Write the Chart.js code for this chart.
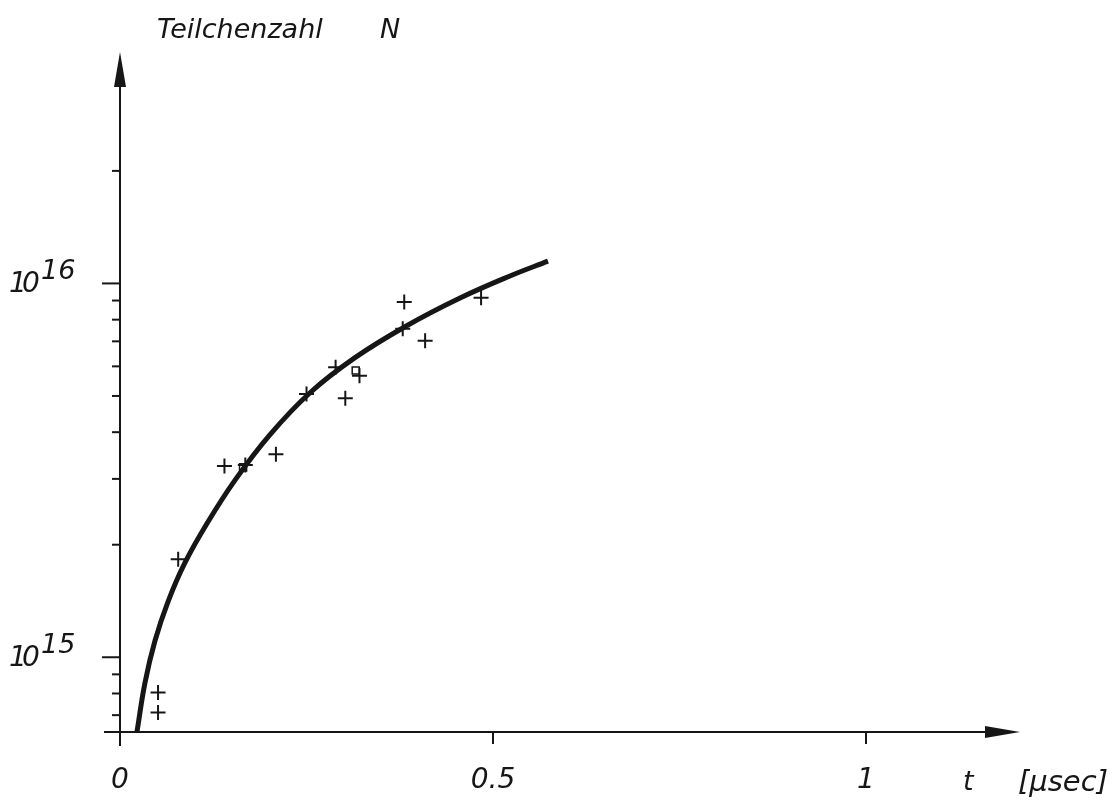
<!DOCTYPE html>
<html>
<head>
<meta charset="utf-8">
<script src="https://cdn.jsdelivr.net/npm/chart.js@4"></script>
<style>
  html, body { margin: 0; padding: 0; background: #fff; }
  canvas { display: block; }
</style>
</head>
<body>
<canvas id="plot" width="1115" height="803"></canvas>
<script>
// measured points (crosses)
const measT = [0.051, 0.051, 0.078, 0.140, 0.168, 0.209, 0.250, 0.289, 0.302, 0.321, 0.381, 0.379, 0.409, 0.484];
const measN = [8.05e14, 7.12e14, 1.83e15, 3.25e15, 3.27e15, 3.49e15, 5.06e15, 5.97e15, 4.93e15, 5.66e15, 8.92e15, 7.56e15, 7.02e15, 9.15e15];

// small open squares
const squareT = [0.165, 0.316];
const squareN = [3.22e15, 5.85e15];

// drawn curve
const curveT = [0.0228, 0.0335, 0.0469, 0.0643, 0.0871, 0.1166, 0.1542, 0.2011, 0.2547, 0.315, 0.382, 0.4558, 0.5228, 0.5737];
const curveN = [6.33e14, 8.55e14, 1.107e15, 1.407e15, 1.79e15, 2.279e15, 2.977e15, 3.94e15, 5.10e15, 6.33e15, 7.66e15, 9.14e15, 1.047e16, 1.147e16];

const xTicks = [0, 0.5, 1];
const xTickLabels = ['0', '0.5', '1'];
const yMinorTicks = [7e14, 8e14, 9e14, 2e15, 3e15, 4e15, 5e15, 6e15, 7e15, 8e15, 9e15, 2e16];
const yMajorTicks = [1e15, 1e16];
const yMajorExp = ['15', '16'];

const INK = '#161616';
const FONT = '"DejaVu Sans", sans-serif';

const toPoints = (xs, ys) => xs.map((x, i) => ({x: x, y: ys[i]}));

const axesPlugin = {
    id: 'handAxes',
    afterDraw(chart) {
        const c = chart.ctx;
        const xs = chart.scales.x;
        const ys = chart.scales.y;
        const area = chart.chartArea;
        const x0 = xs.getPixelForValue(0);
        const yb = area.bottom;

        c.save();
        c.strokeStyle = INK;
        c.fillStyle = INK;
        c.lineWidth = 2;

        // y axis with arrow
        c.beginPath();
        c.moveTo(x0, yb + 14);
        c.lineTo(x0, area.top + 30);
        c.stroke();
        c.beginPath();
        c.moveTo(x0, area.top);
        c.lineTo(x0 - 6, area.top + 35);
        c.lineTo(x0 + 6, area.top + 35);
        c.closePath();
        c.fill();

        // x axis with arrow
        c.beginPath();
        c.moveTo(x0 - 16, yb);
        c.lineTo(area.right - 30, yb);
        c.stroke();
        c.beginPath();
        c.moveTo(area.right, yb);
        c.lineTo(area.right - 35, yb - 6);
        c.lineTo(area.right - 35, yb + 6);
        c.closePath();
        c.fill();

        // x ticks
        xTicks.forEach(v => {
            const px = xs.getPixelForValue(v);
            c.beginPath();
            c.moveTo(px, yb);
            c.lineTo(px, yb + 12);
            c.stroke();
        });

        // y ticks
        yMinorTicks.forEach(v => {
            const py = ys.getPixelForValue(v);
            c.beginPath();
            c.moveTo(x0 - 8, py);
            c.lineTo(x0, py);
            c.stroke();
        });
        c.textBaseline = 'alphabetic';
        c.textAlign = 'left';
        yMajorTicks.forEach((v, i) => {
            const py = ys.getPixelForValue(v);
            c.beginPath();
            c.moveTo(x0 - 18, py);
            c.lineTo(x0, py);
            c.stroke();
            c.font = 'italic 28px ' + FONT;
            c.fillText('1', 9, py + 9);
            c.fillText('0', 22, py + 9);
            c.font = 'italic 27px ' + FONT;
            c.fillText(yMajorExp[i], 41, py - 4);
        });

        // titles
        c.font = 'italic 27px ' + FONT;
        c.fillText('Teilchenzahl', 157, 38);
        c.fillText('N', 380, 38);
        c.fillText('t', 963, 790);
        c.font = 'italic 29px ' + FONT;
        c.fillText('[μsec]', 1018, 791);
        c.restore();
    }
};

new Chart(document.getElementById('plot').getContext('2d'), {
    type: 'scatter',
    data: {
        datasets: [
            {
                label: 'Kurve',
                type: 'line',
                data: toPoints(curveT, curveN),
                borderColor: INK,
                borderWidth: 5,
                pointRadius: 0,
                tension: 0.4,
                fill: false
            },
            {
                label: 'Messpunkte',
                data: toPoints(measT, measN),
                pointStyle: 'cross',
                pointRadius: 7.5,
                borderColor: INK,
                borderWidth: 2
            },
            {
                label: 'Quadrate',
                data: toPoints(squareT, squareN),
                pointStyle: 'rect',
                pointRadius: 5,
                borderColor: INK,
                backgroundColor: 'rgba(0,0,0,0)',
                borderWidth: 1.5
            }
        ]
    },
    options: {
        responsive: false,
        animation: false,
        devicePixelRatio: 1,
        layout: {padding: {top: 52, right: 95, left: 120, bottom: 0}},
        plugins: {legend: {display: false}, tooltip: {enabled: false}},
        scales: {
            x: {
                type: 'linear',
                min: 0,
                max: 1.2064,
                grid: {display: false, drawTicks: false},
                border: {display: false},
                afterBuildTicks: scale => { scale.ticks = xTicks.map(v => ({value: v})); },
                afterFit: scale => { scale.height = 71; },
                ticks: {
                    padding: 32,
                    color: INK,
                    font: {family: FONT, style: 'italic', size: 28},
                    callback: (v) => xTickLabels[xTicks.indexOf(v)]
                }
            },
            y: {
                type: 'logarithmic',
                display: false,
                min: 6.31e14,
                max: 4.16e16
            }
        }
    },
    plugins: [axesPlugin]
});
</script>
</body>
</html>
